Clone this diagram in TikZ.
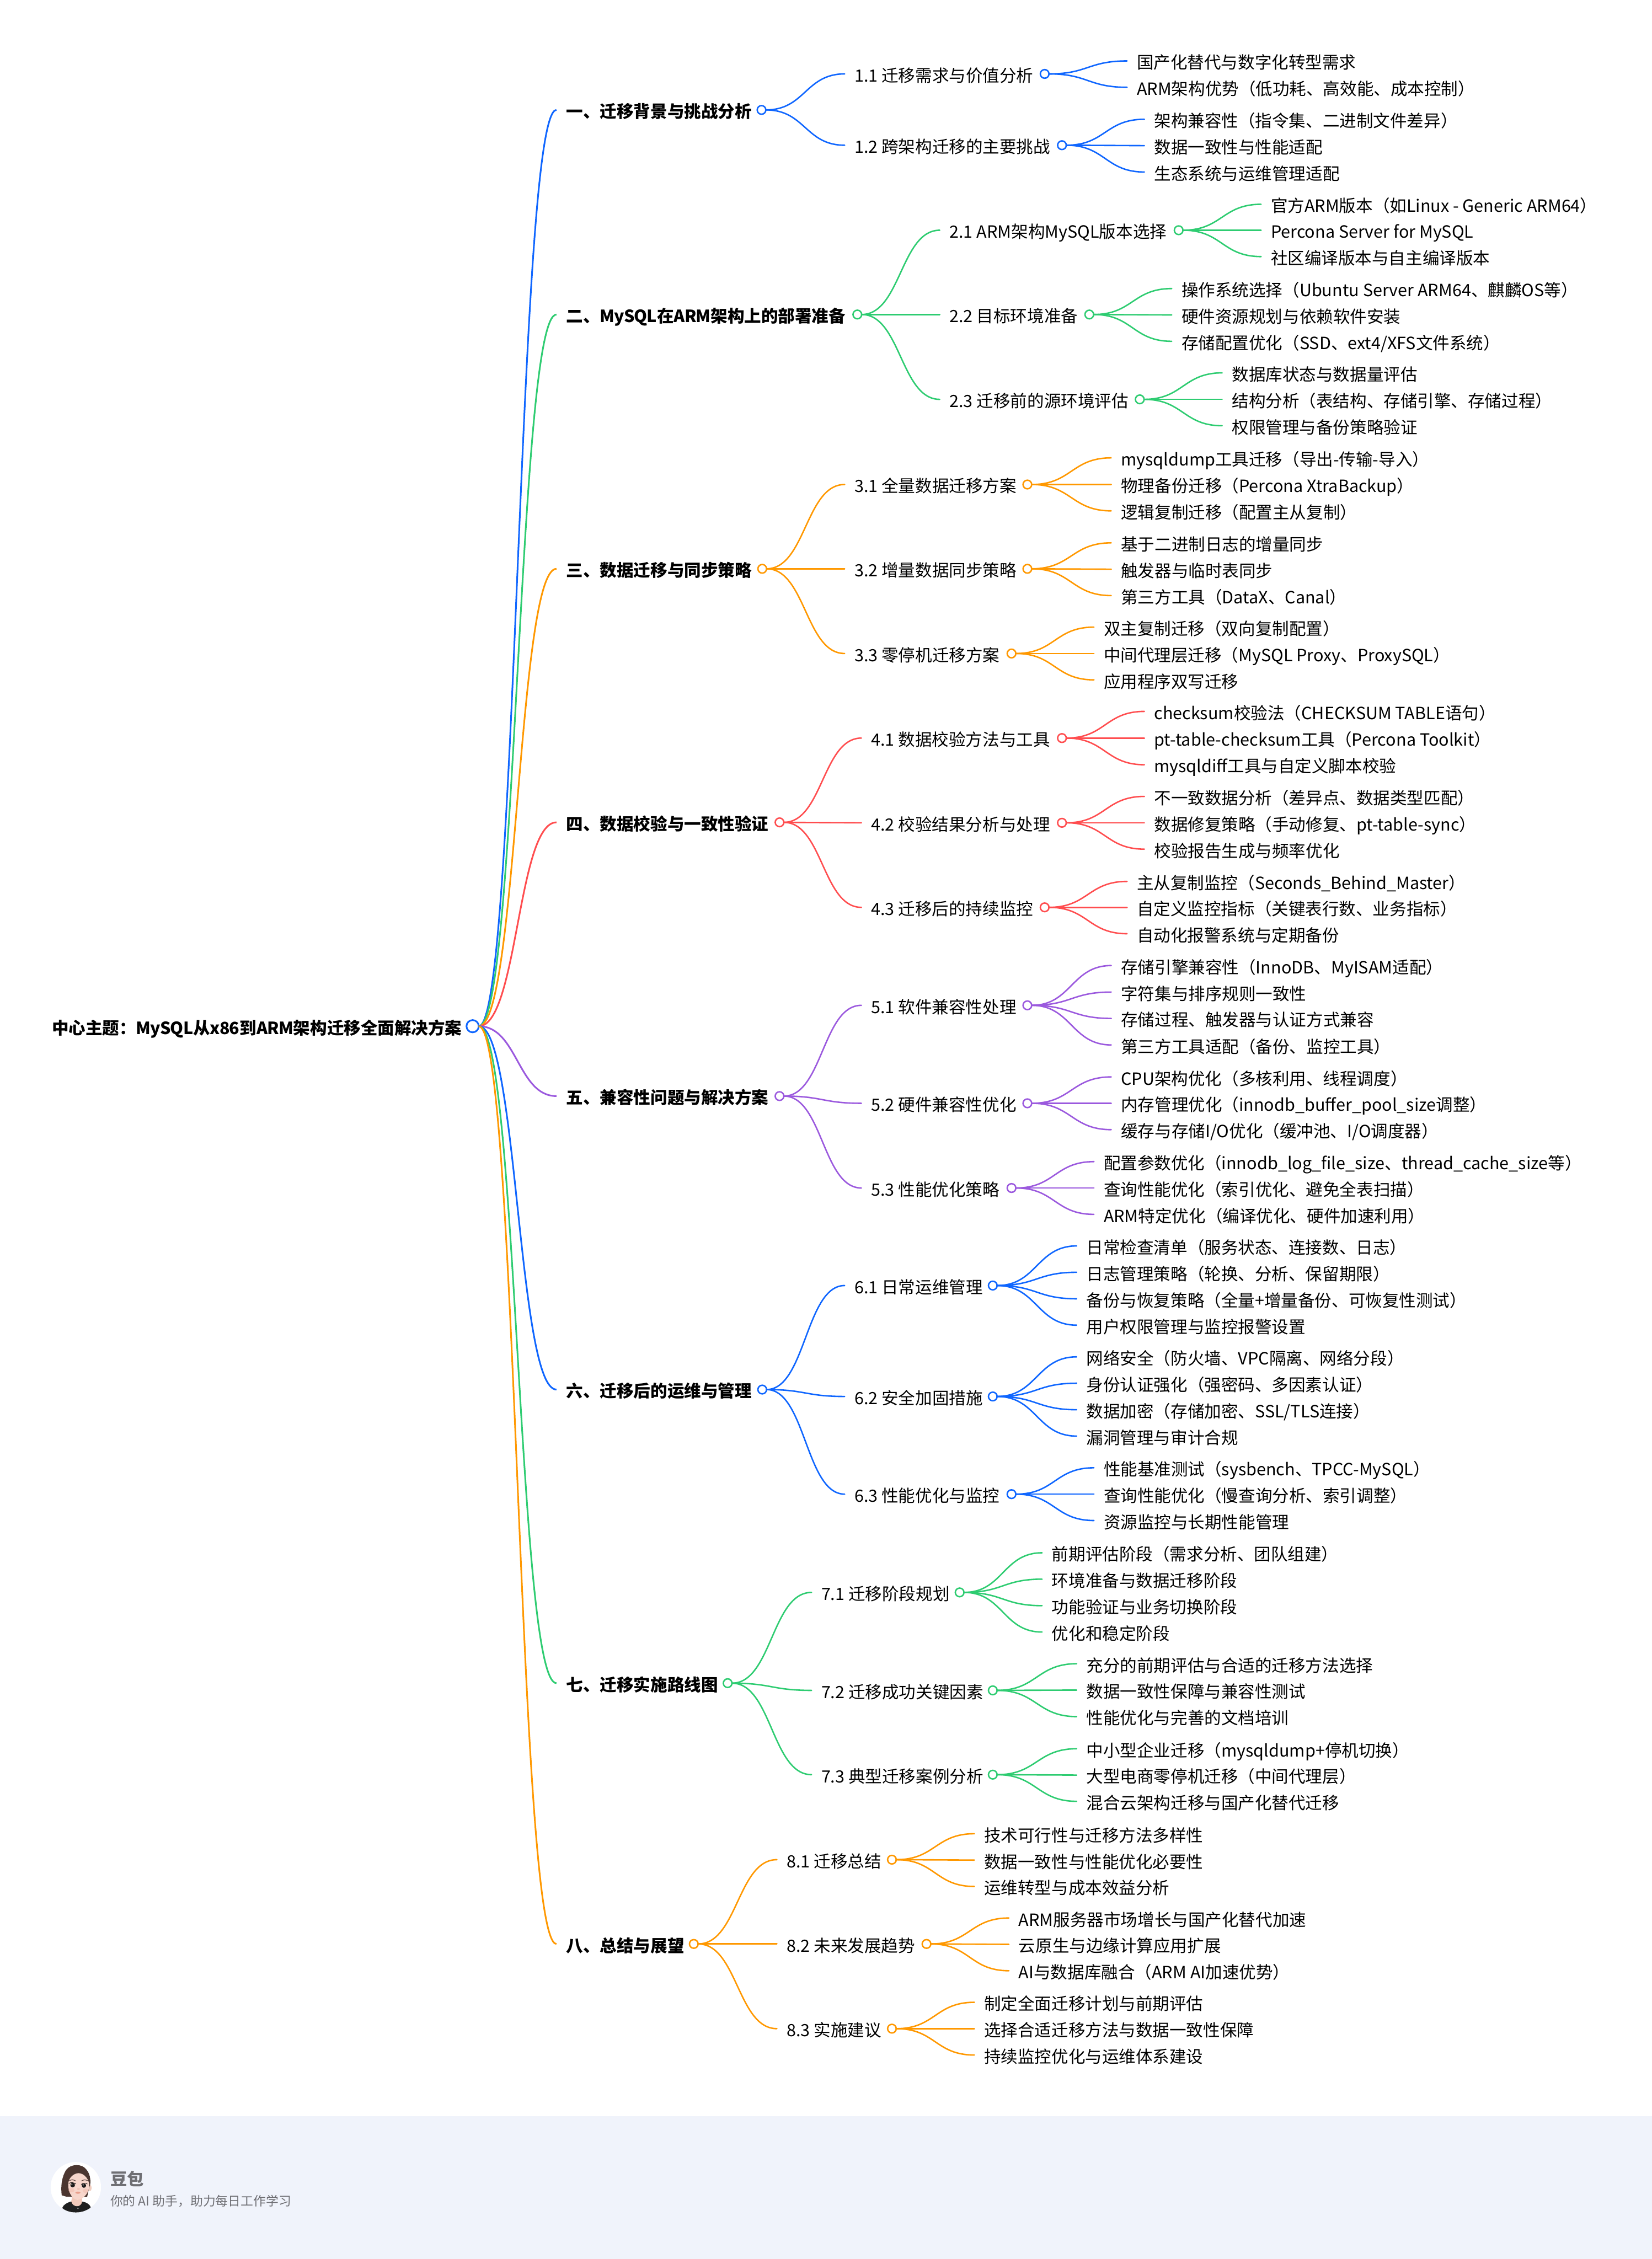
\documentclass[tikz,border=0pt]{standalone}
\usepackage{fontspec}
\setmainfont{Noto Sans CJK SC}
\usetikzlibrary{calc}
\definecolor{cblue}{HTML}{0F66FF}
\definecolor{cgreen}{HTML}{2ECC71}
\definecolor{corange}{HTML}{FF9800}
\definecolor{cred}{HTML}{FF4D4F}
\definecolor{cpurple}{HTML}{9B59DE}
\definecolor{foot}{HTML}{F0F3FB}
\definecolor{footgray}{HTML}{6E6E73}
\definecolor{neck}{HTML}{F1C9BA}
\definecolor{ear}{HTML}{F0CDBF}
\definecolor{hair}{HTML}{4B3630}
\definecolor{face}{HTML}{F7D6CB}
\definecolor{blush}{HTML}{F0B7A8}
\definecolor{nose}{HTML}{EFC2B4}
\definecolor{lips}{HTML}{E99F8C}
\newcounter{leafn}
\newcommand\lb[1]{{\addfontfeature{LetterSpace=-3}#1}}
\tikzset{
  txt/.style={font=\fontsize{11.7pt}{14pt}\selectfont,text=black,inner xsep=6.8pt,inner ysep=0pt,outer sep=0pt,text height=11pt,text depth=0pt,anchor=west},
  toptxt/.style={txt,font=\fontsize{11.7pt}{14pt}\selectfont\bfseries},
  nodedot/.style={circle,draw=#1,fill=white,line width=1pt,minimum size=6pt,inner sep=0pt,outer sep=0pt},
  link/.style={line width=1pt,draw=#1,line cap=round},
  toplink/.style={line width=1.15pt,draw=#1},
}
% curve from a parent's right edge to a child's left edge
\newcommand\mmcurve[3]{%
  \draw[#1] let \p1=(#2.east),\p2=(#3.west) in (\p1) .. controls ({0.5*\x1+0.5*\x2},\y1) and ({0.5*\x1+0.5*\x2},\y2) .. (\p2);}
% name, colour, text x, y, dot x, text
\newcommand\topic[6]{%
  \node[toptxt] (t#1) at (#3-6.8,#4-1.2) {#6};
  \node[nodedot=#2] (#1) at (#5,#4-1.2) {};
  \mmcurve{toplink=#2}{c}{t#1}}
% name, parent, colour, text x, y, dot x, text
\newcommand\sub[7]{%
  \node[txt] (t#1) at (#4-6.8,#5-1.2) {#7};
  \node[nodedot=#3] (#1) at (#6,#5-1.2) {};
  \mmcurve{link=#3}{#2}{t#1}}
% parent, colour, text x, y, text
\newcommand\leaf[5]{%
  \stepcounter{leafn}\edef\lname{l\arabic{leafn}}%
  \node[txt] (\lname) at (#3-6.8,#4-1.2) {#5};
  \mmcurve{link=#2}{#1}{\lname}}
\begin{document}
\begin{tikzpicture}[x=1pt,y=-1pt]
\useasboundingbox (0,0) rectangle (1146.4,1568);
\fill[white] (0,0) rectangle (1146.4,1568);
\fill[foot] (0,1469) rectangle (1146.4,1568);

% centre
\node[toptxt,inner xsep=0pt] (ctext) at (36,713.5-1.2) {中心主题：\lb{MySQL}从\lb{x86}到\lb{ARM}架构迁移全面解决方案};
\node[nodedot=cblue,minimum size=8.5pt,line width=1.15pt] (c) at (328,713.5-1.2) {};

\topic{a}{cblue}{393}{77.5}{528.5}{一、迁移背景与挑战分析}
\sub{a1}{a}{cblue}{593}{52.5}{725}{1.1 迁移需求与价值分析}
\leaf{a1}{cblue}{789}{43.5}{国产化替代与数字化转型需求}
\leaf{a1}{cblue}{789}{61.8}{ARM架构优势（低功耗、高效能、成本控制）}
\sub{a2}{a}{cblue}{593}{102}{737}{1.2 跨架构迁移的主要挑战}
\leaf{a2}{cblue}{801}{84}{架构兼容性（指令集、二进制文件差异）}
\leaf{a2}{cblue}{801}{102.3}{数据一致性与性能适配}
\leaf{a2}{cblue}{801}{120.6}{生态系统与运维管理适配}

\topic{b}{cgreen}{393}{219.5}{595}{二、\lb{MySQL}在\lb{ARM}架构上的部署准备}
\sub{b1}{b}{cgreen}{659}{161}{818}{2.1 ARM架构MySQL版本选择}
\leaf{b1}{cgreen}{882}{143}{官方ARM版本（如Linux - Generic ARM64）}
\leaf{b1}{cgreen}{882}{161}{Percona Server for MySQL}
\leaf{b1}{cgreen}{882}{179.3}{社区编译版本与自主编译版本}
\sub{b2}{b}{cgreen}{659}{219.5}{756}{2.2 目标环境准备}
\leaf{b2}{cgreen}{820}{201.5}{操作系统选择（Ubuntu Server ARM64、麒麟OS等）}
\leaf{b2}{cgreen}{820}{219.8}{硬件资源规划与依赖软件安装}
\leaf{b2}{cgreen}{820}{238.1}{存储配置优化（SSD、ext4/XFS文件系统）}
\sub{b3}{b}{cgreen}{659}{278.4}{791}{2.3 迁移前的源环境评估}
\leaf{b3}{cgreen}{855}{260}{数据库状态与数据量评估}
\leaf{b3}{cgreen}{855}{278.4}{结构分析（表结构、存储引擎、存储过程）}
\leaf{b3}{cgreen}{855}{296.7}{权限管理与备份策略验证}

\topic{d}{corange}{393}{396}{529}{三、数据迁移与同步策略}
\sub{d1}{d}{corange}{593}{337.5}{713}{3.1 全量数据迁移方案}
\leaf{d1}{corange}{778}{319}{mysqldump工具迁移（导出-传输-导入）}
\leaf{d1}{corange}{778}{337.5}{物理备份迁移（Percona XtraBackup）}
\leaf{d1}{corange}{778}{355.8}{逻辑复制迁移（配置主从复制）}
\sub{d2}{d}{corange}{593}{396}{713}{3.2 增量数据同步策略}
\leaf{d2}{corange}{778}{378}{基于二进制日志的增量同步}
\leaf{d2}{corange}{778}{396.3}{触发器与临时表同步}
\leaf{d2}{corange}{778}{414.6}{第三方工具（DataX、Canal）}
\sub{d3}{d}{corange}{593}{454.8}{702}{3.3 零停机迁移方案}
\leaf{d3}{corange}{766}{436.5}{双主复制迁移（双向复制配置）}
\leaf{d3}{corange}{766}{454.8}{中间代理层迁移（MySQL Proxy、ProxySQL）}
\leaf{d3}{corange}{766}{473.1}{应用程序双写迁移}

\topic{e}{cred}{393}{572}{541}{四、数据校验与一致性验证}
\sub{e1}{e}{cred}{604.6}{513.5}{737}{4.1 数据校验方法与工具}
\leaf{e1}{cred}{801}{495}{checksum校验法（CHECKSUM TABLE语句）}
\leaf{e1}{cred}{801}{513.5}{pt-table-checksum工具（Percona Toolkit）}
\leaf{e1}{cred}{801}{532}{mysqldiff工具与自定义脚本校验}
\sub{e2}{e}{cred}{604.6}{572.3}{737}{4.2 校验结果分析与处理}
\leaf{e2}{cred}{801}{554}{不一致数据分析（差异点、数据类型匹配）}
\leaf{e2}{cred}{801}{572.3}{数据修复策略（手动修复、pt-table-sync）}
\leaf{e2}{cred}{801}{590.6}{校验报告生成与频率优化}
\sub{e3}{e}{cred}{604.6}{631}{725}{4.3 迁移后的持续监控}
\leaf{e3}{cred}{789}{613}{主从复制监控（Seconds\_Behind\_Master）}
\leaf{e3}{cred}{789}{631}{自定义监控指标（关键表行数、业务指标）}
\leaf{e3}{cred}{789}{649.3}{自动化报警系统与定期备份}

\topic{f}{cpurple}{393}{762}{541}{五、兼容性问题与解决方案}
\sub{f1}{f}{cpurple}{604.6}{699}{713}{5.1 软件兼容性处理}
\leaf{f1}{cpurple}{778}{671.4}{存储引擎兼容性（InnoDB、MyISAM适配）}
\leaf{f1}{cpurple}{778}{689.8}{字符集与排序规则一致性}
\leaf{f1}{cpurple}{778}{708.1}{存储过程、触发器与认证方式兼容}
\leaf{f1}{cpurple}{778}{726.5}{第三方工具适配（备份、监控工具）}
\sub{f2}{f}{cpurple}{604.6}{767}{713}{5.2 硬件兼容性优化}
\leaf{f2}{cpurple}{778}{748.7}{CPU架构优化（多核利用、线程调度）}
\leaf{f2}{cpurple}{778}{767}{内存管理优化（innodb\_buffer\_pool\_size调整）}
\leaf{f2}{cpurple}{778}{785.3}{缓存与存储I/O优化（缓冲池、I/O调度器）}
\sub{f3}{f}{cpurple}{604.6}{825.8}{702}{5.3 性能优化策略}
\leaf{f3}{cpurple}{766}{807.5}{配置参数优化（innodb\_log\_file\_size、thread\_cache\_size等）}
\leaf{f3}{cpurple}{766}{825.8}{查询性能优化（索引优化、避免全表扫描）}
\leaf{f3}{cpurple}{766}{844.1}{ARM特定优化（编译优化、硬件加速利用）}

\topic{g}{cblue}{393}{965.7}{529}{六、迁移后的运维与管理}
\sub{g1}{g}{cblue}{593}{893.5}{689}{6.1 日常运维管理}
\leaf{g1}{cblue}{754}{866}{日常检查清单（服务状态、连接数、日志）}
\leaf{g1}{cblue}{754}{884.3}{日志管理策略（轮换、分析、保留期限）}
\leaf{g1}{cblue}{754}{902.7}{备份与恢复策略（全量+增量备份、可恢复性测试）}
\leaf{g1}{cblue}{754}{921}{用户权限管理与监控报警设置}
\sub{g2}{g}{cblue}{593}{970.5}{689}{6.2 安全加固措施}
\leaf{g2}{cblue}{754}{943}{网络安全（防火墙、VPC隔离、网络分段）}
\leaf{g2}{cblue}{754}{961.3}{身份认证强化（强密码、多因素认证）}
\leaf{g2}{cblue}{754}{979.7}{数据加密（存储加密、SSL/TLS连接）}
\leaf{g2}{cblue}{754}{998}{漏洞管理与审计合规}
\sub{g3}{g}{cblue}{593}{1038.3}{702}{6.3 性能优化与监控}
\leaf{g3}{cblue}{766}{1020}{性能基准测试（sysbench、TPCC-MySQL）}
\leaf{g3}{cblue}{766}{1038.3}{查询性能优化（慢查询分析、索引调整）}
\leaf{g3}{cblue}{766}{1056.6}{资源监控与长期性能管理}

\topic{h}{cgreen}{393}{1169.5}{505}{七、迁移实施路线图}
\sub{h1}{h}{cgreen}{570}{1106.5}{666}{7.1 迁移阶段规划}
\leaf{h1}{cgreen}{730}{1079}{前期评估阶段（需求分析、团队组建）}
\leaf{h1}{cgreen}{730}{1097.3}{环境准备与数据迁移阶段}
\leaf{h1}{cgreen}{730}{1115.7}{功能验证与业务切换阶段}
\leaf{h1}{cgreen}{730}{1134}{优化和稳定阶段}
\sub{h2}{h}{cgreen}{570}{1174.5}{689}{7.2 迁移成功关键因素}
\leaf{h2}{cgreen}{754}{1156}{充分的前期评估与合适的迁移方法选择}
\leaf{h2}{cgreen}{754}{1174.3}{数据一致性保障与兼容性测试}
\leaf{h2}{cgreen}{754}{1192.7}{性能优化与完善的文档培训}
\sub{h3}{h}{cgreen}{570}{1233}{689}{7.3 典型迁移案例分析}
\leaf{h3}{cgreen}{754}{1215}{中小型企业迁移（mysqldump+停机切换）}
\leaf{h3}{cgreen}{754}{1233.3}{大型电商零停机迁移（中间代理层）}
\leaf{h3}{cgreen}{754}{1251.5}{混合云架构迁移与国产化替代迁移}

\topic{k}{corange}{393}{1350.5}{481.5}{八、总结与展望}
\sub{k1}{k}{corange}{546}{1292}{619}{8.1 迁移总结}
\leaf{k1}{corange}{683}{1274}{技术可行性与迁移方法多样性}
\leaf{k1}{corange}{683}{1292.3}{数据一致性与性能优化必要性}
\leaf{k1}{corange}{683}{1310.6}{运维转型与成本效益分析}
\sub{k2}{k}{corange}{546}{1350.5}{643}{8.2 未来发展趋势}
\leaf{k2}{corange}{707}{1332.5}{ARM服务器市场增长与国产化替代加速}
\leaf{k2}{corange}{707}{1350.8}{云原生与边缘计算应用扩展}
\leaf{k2}{corange}{707}{1369.1}{AI与数据库融合（ARM AI加速优势）}
\sub{k3}{k}{corange}{546}{1409.3}{619}{8.3 实施建议}
\leaf{k3}{corange}{683}{1391}{制定全面迁移计划与前期评估}
\leaf{k3}{corange}{683}{1409.3}{选择合适迁移方法与数据一致性保障}
\leaf{k3}{corange}{683}{1427.6}{持续监控优化与运维体系建设}

% footer
\node[anchor=west,inner sep=0pt,text=footgray,font=\fontsize{11.6pt}{14pt}\selectfont\bfseries] (brand) at (76.4,1512.5) {豆包};
\node[anchor=west,inner sep=0pt,text=footgray,font=\fontsize{8.75pt}{10pt}\selectfont] (tagline) at (76.4,1527.8) {你的 AI 助手，助力每日工作学习};

% avatar, drawn in the pixels of a 3x crop
\begin{scope}[shift={(29.37,1497.6)},x=0.12236pt,y=-0.12236pt]
  \fill[white] (190,168) circle[radius=17.5pt];
  \begin{scope}
    \clip (190,168) circle[radius=17.5pt];
    \fill[black!88] (113,286) .. controls (120,268) and (135,258) .. (160,250) -- (228,250) .. controls (255,255) and (268,265) .. (276,284) .. controls (240,320) and (150,320) .. (113,286) -- cycle;
  \end{scope}
  \fill[gray!70] (202,288) circle[radius=.5pt];
  \fill[neck] (172,210) -- (226,210) -- (226,248) .. controls (222,285) and (172,285) .. (164,248) -- cycle;
  \fill[ear] (270,172) ellipse[x radius=1.2pt,y radius=2.2pt];
  \fill[hair] (110,214) .. controls (104,160) and (110,110) .. (135,70) .. controls (160,35) and (225,32) .. (250,68) .. controls (275,95) and (278,150) .. (266,168) -- (254,224) -- (150,222) -- (138,222) -- cycle;
  \fill[face] (147,150) .. controls (150,110) and (180,90) .. (205,88) .. controls (240,90) and (268,125) .. (266,165) .. controls (262,205) and (230,238) .. (200,240) .. controls (170,238) and (145,195) .. (147,150) -- cycle;
  \fill[blush,opacity=.45] (165,185) ellipse[x radius=2.2pt,y radius=1.5pt];
  \fill[blush,opacity=.45] (245,188) ellipse[x radius=2pt,y radius=1.5pt];
  \draw[hair,line width=.4pt,line cap=round] (152,132) .. controls (165,123) and (178,125) .. (190,133);
  \draw[hair,line width=.4pt,line cap=round] (222,133) .. controls (232,125) and (245,125) .. (256,130);
  \fill[black!90] (172,156) circle[radius=1.6pt];
  \fill[black!90] (236,159) circle[radius=1.5pt];
  \draw[black,line width=.3pt] (150,146) .. controls (160,140) and (180,140) .. (190,150);
  \draw[black,line width=.3pt] (220,152) .. controls (230,144) and (246,144) .. (256,150);
  \fill[white] (168,152) circle[radius=.4pt];
  \fill[white] (232,155) circle[radius=.4pt];
  \fill[nose] (205,178) ellipse[x radius=1pt,y radius=.6pt];
  \fill[lips] (202,199) ellipse[x radius=1.8pt,y radius=.75pt];
\end{scope}
\end{tikzpicture}
\end{document}
